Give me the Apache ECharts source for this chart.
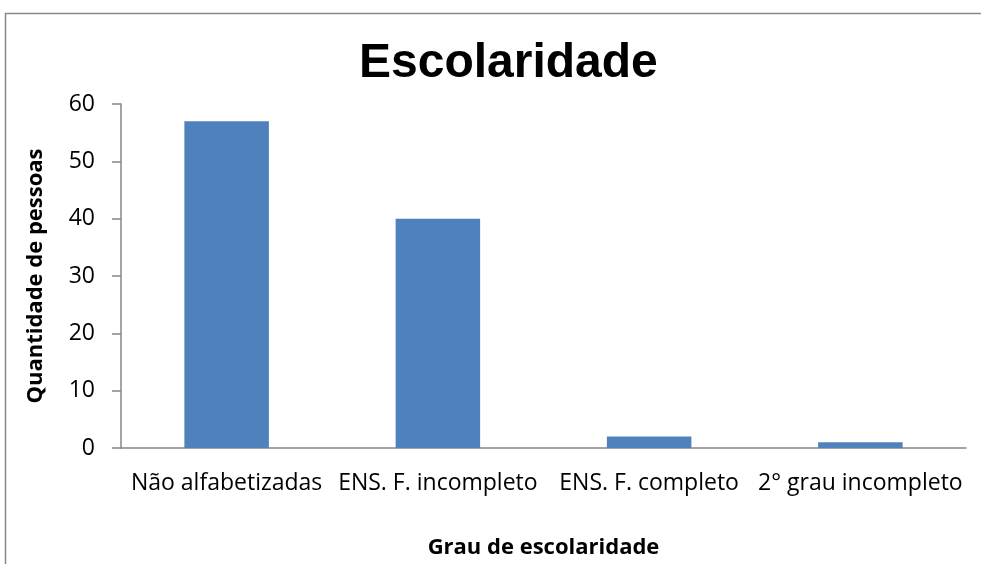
<!DOCTYPE html>
<html><head><meta charset="utf-8">
<script src="https://cdn.jsdelivr.net/npm/echarts@6/dist/echarts.min.js"></script>
<style>html,body{margin:0;padding:0;background:#fff}#c{width:981px;height:564px}</style>
</head><body><div id="c"></div>
<script>
const categories = ['Não alfabetizadas', 'ENS. F. incompleto', 'ENS. F. completo', '2° grau incompleto'];
const values = [57, 40, 2, 1];
const yTicks = [0, 10, 20, 30, 40, 50, 60];

const chart = echarts.init(document.getElementById('c'));
const font = '"Open Sans", sans-serif';
chart.setOption({
  animation: false,
  graphic: [{type:'rect', shape:{x:5.5, y:13.5, width:1100, height:700}, style:{fill:'none', stroke:'#888', lineWidth:1.5}, z:-1}],
  title: {text:'Escolaridade', left:354, top:35, textStyle:{fontFamily:'"Liberation Sans", Arial, sans-serif', fontWeight:'bold', fontSize:48, color:'#000'}},
  grid: {left:121, right:15, top:104, bottom:114, containLabel:false},
  xAxis: {type:'category', data:categories,
    name:'Grau de escolaridade', nameLocation:'middle', nameGap:89,
    nameTextStyle:{fontFamily:font, fontWeight:'bold', fontSize:22, color:'#000'},
    axisLine:{lineStyle:{color:'#868686', width:1.5}}, axisTick:{show:false},
    axisLabel:{fontFamily:font, fontSize:23, color:'#000', margin:24, interval:0}},
  yAxis: {type:'value', min:yTicks[0], max:yTicks[yTicks.length-1], interval:10,
    name:'Quantidade de pessoas', nameLocation:'middle', nameGap:74,
    nameTextStyle:{fontFamily:font, fontWeight:'bold', fontSize:22, color:'#000'},
    axisLine:{show:true, lineStyle:{color:'#868686', width:1.5}},
    axisTick:{show:true, length:9, lineStyle:{color:'#868686', width:1.5}},
    splitLine:{show:false},
    axisLabel:{fontFamily:font, fontSize:23, color:'#000', margin:26}},
  series: [{type:'bar', data:values, barWidth:'40%', itemStyle:{color:'#4f81bd'}}]
});
</script></body></html>
